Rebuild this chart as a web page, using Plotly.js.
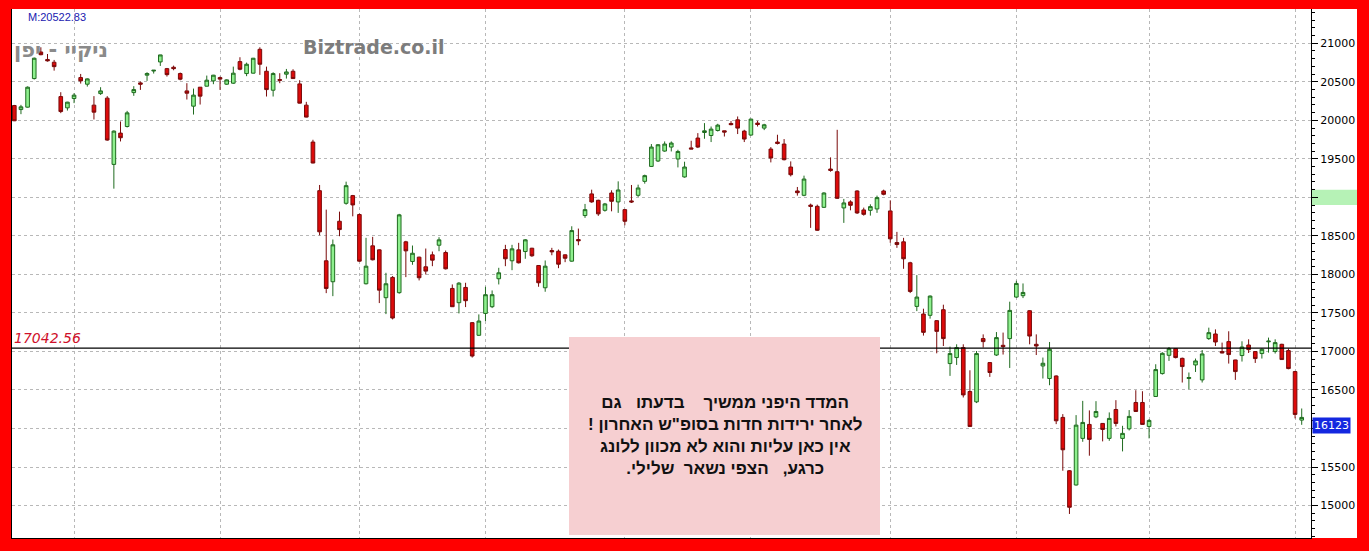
<!DOCTYPE html>
<html>
<head>
<meta charset="utf-8">
<script src="https://cdn.plot.ly/plotly-3.0.1.min.js"></script>
<style>
html,body{margin:0;padding:0;background:#ff0000;}
#chart{width:1369px;height:551px;}
</style>
</head>
<body>
<div id="chart"></div>
<script>
// ---- data (Nikkei 225 daily candles) ----
const opens = [20192,20140,20171,20542,20887,20790,20754,20308,20162,20283,
20555,20469,20197,20347,20288,19428,19834,19920,20360,20486,
20586,20640,20758,20671,20689,20607,20382,20184,20430,20443,
20512,20555,20469,20482,20762,20607,20612,20922,20637,20391,
20530,20599,20637,20473,20197,19718,19087,18177,17905,18690,
18923,19023,18777,17879,18371,18319,17698,17961,17763,18423,
18168,18224,18099,18254,18379,18284,17818,17633,17831,17374,
17210,17494,17581,17944,18323,18177,18319,18297,18340,18116,
17827,18310,18301,18254,18172,18453,18764,19045,18962,18832,
19057,18941,18841,18954,19027,19208,19402,19472,19601,19653,
19498,19265,19642,19770,19842,19803,19868,19864,19959,20007,
19860,19809,19964,19899,19627,19718,19692,19394,19083,19027,
18900,18884,18871,19368,19333,18863,18941,19083,18837,18832,
18850,19083,18824,18414,18423,18151,17585,17486,17469,17400,
17542,16843,16921,17050,16480,16346,17167,16856,16954,17080,
17167,17706,17724,17529,17093,16812,16649,16682,16144,15452,
15267,15872,16053,16151,16066,15872,16247,15872,15996,16338,
16338,16027,16416,16713,16950,17037,16911,16649,16825,16631,
17167,17227,16999,17128,16890,16947,17084,16999,16973,17125,
16999,17093,17011,16739,16109];
const highs = [20200,20201,20440,20815,20948,20861,20784,20365,20240,20352,
20602,20545,20314,20430,20314,19870,19985,20123,20443,20503,
20624,20652,20851,20680,20710,20620,20482,20412,20432,20581,
20590,20568,20532,20697,20819,20749,20810,20948,20697,20624,
20612,20667,20663,20521,20240,19748,19161,18841,18453,18815,
19204,19032,18790,18475,18488,18325,18021,17979,18786,18436,
18375,18230,18336,18297,18483,18310,17870,17900,17892,17382,
17481,17840,17792,18086,18384,18384,18410,18458,18345,18120,
18181,18345,18323,18260,18625,18595,18915,19100,18970,18928,
19092,19208,18850,19161,19165,19295,19692,19692,19726,19726,
19618,19463,19735,19834,19964,19920,19955,19866,19990,20050,
19877,20020,19994,19955,19653,19813,19757,19467,19135,19282,
18919,18906,19066,19519,19877,18980,18962,19092,18867,18910,
19023,19100,18962,18552,18475,18164,17991,17555,17727,17405,
17607,17063,17093,17093,16756,17006,17222,16860,17252,17245,
17646,17918,17883,17535,17222,16921,17123,16690,16187,15460,
16174,16359,16235,16355,16070,16209,16368,16035,16239,16497,
16484,16122,16834,16990,17058,17045,16920,16727,16908,17019,
17309,17287,17115,17262,16892,17132,17158,17002,17041,17180,
17158,17100,17037,16748,16260];
const lows = [19990,20080,20165,20530,20845,20762,20645,20093,20127,20223,
20477,20438,20011,20330,19735,19113,19726,19907,20318,20395,
20512,20607,20706,20568,20650,20520,20270,20075,20205,20440,
20469,20395,20460,20473,20650,20573,20608,20590,20309,20309,
20482,20542,20538,20220,20038,19442,18508,17757,17718,18496,
18905,18754,18165,17870,18182,17628,17485,17416,17750,17965,
18125,17922,17999,18107,18301,18064,17577,17494,17576,16921,
17201,17395,17563,17870,18107,18055,18142,18203,18228,17840,
17775,18249,18081,18159,18165,18379,18734,18930,18760,18815,
18819,18799,18638,18928,19006,19178,19394,19459,19592,19596,
19389,19256,19627,19640,19761,19718,19855,19790,19935,19822,
19718,19800,19920,19873,19454,19687,19480,19272,19023,19015,
18604,18565,18862,19333,18980,18669,18832,18785,18763,18763,
18799,19027,18410,18345,18073,17758,17524,17206,17426,16976,
17071,16683,16825,16403,16020,16330,17050,16670,16942,16960,
16786,17696,17693,17093,16954,16649,16562,16057,15452,14891,
15260,15828,15647,16135,15833,15841,16027,15703,15975,16215,
16050,15872,16410,16700,16877,16910,16597,16510,16734,16597,
17150,17071,16977,16843,16631,16869,16980,16851,16908,16985,
16973,16890,16769,16131,16048];
const closes = [19994,20175,20430,20806,20852,20772,20697,20114,20236,20327,
20512,20538,20106,20382,19744,19860,19774,20097,20399,20469,
20607,20650,20849,20593,20671,20534,20352,20327,20314,20521,
20586,20535,20525,20612,20663,20728,20806,20728,20399,20607,
20519,20628,20542,20223,20042,19446,18553,17818,18384,18582,
19152,18902,18172,18107,18190,17796,17879,17434,18773,18306,
18275,17957,18043,18185,18449,18073,17581,17887,17659,16941,
17395,17737,17737,18021,18203,18332,18151,18449,18242,17892,
18107,18293,18133,18210,18569,18436,18841,18941,18786,18915,
18949,19096,18690,18941,19122,19282,19653,19683,19692,19705,
19596,19394,19627,19653,19864,19886,19938,19847,19944,19899,
19757,20016,19946,19942,19511,19700,19489,19294,19061,19238,
18883,18573,19057,19350,18988,18928,18897,18798,18780,18880,
18997,19040,18462,18388,18203,17779,17706,17248,17719,17261,
17167,16973,17050,16436,16027,16973,17128,16727,17180,17063,
17533,17883,17766,17200,17071,16847,17028,16100,15724,14978,
16044,16079,15859,16221,15988,16131,16066,15937,16157,16221,
16053,16105,16765,16976,17037,16921,16804,16662,16877,16968,
17244,17123,16980,16960,16739,17058,17024,16908,17028,17134,
17115,16895,16778,16183,16144];

// month-start candles (vertical grid lines)
const monthStartIdx = [9,31,52,71,92,111,132,151,171,193];
const yTickVals = [15000,15500,16000,16500,17000,17500,18000,18500,19000,19500,20000,20500,21000];
const yTickText = ['15000','15500','','16500','17000','17500','18000','18500','','19500','20000','20500','21000'];
const refLevel = 17042.56;
const lastPrice = 16123;
const maxLabel = 'M:20522.83';
const titleText = 'ניקיי - יפן';
const brandText = 'Biztrade.co.il';
const noteLines = [
  'המדד היפני ממשיך\u00a0\u00a0\u00a0 בדעתו\u00a0\u00a0 גם',
  'לאחר ירידות חדות בסופ"ש האחרון !\u200F',
  'אין כאן עליות והוא לא מכוון ללונג',
  'כרגע,\u00a0\u00a0 הצפי נשאר\u00a0 שלילי.\u200F'
];

// ---- geometry ----
const W = 1369, H = 551;
const PL = 12, PR = 1311, PT = 9, PB = 538;
const pw = PR - PL, ph = PB - PT;
const px = x => (x - PL) / pw;      // pixel -> paper x
const py = y => (PB - y) / ph;      // pixel -> paper y

const xs = opens.map((_, i) => i);

const trace = {
  type: 'candlestick',
  x: xs, open: opens, high: highs, low: lows, close: closes,
  increasing: {line: {color: '#1f6b1f', width: 1}, fillcolor: '#8ef08e'},
  decreasing: {line: {color: '#7a0a0a', width: 1}, fillcolor: '#dd0a0a'},
  whiskerwidth: 0,
  hoverinfo: 'none'
};

const layout = {
  width: W, height: H,
  margin: {l: PL, r: W - PR, t: PT, b: H - PB, pad: 0},
  paper_bgcolor: '#ff0000',
  plot_bgcolor: '#ffffff',
  showlegend: false,
  boxgap: 0.22,
  dragmode: false,
  xaxis: {
    range: [-0.35, 195.4],
    rangeslider: {visible: false},
    showline: true, linecolor: '#000', linewidth: 1,
    tickmode: 'array', tickvals: monthStartIdx,
    showticklabels: false, ticks: '',
    showgrid: true, gridcolor: '#b8b8b8', gridwidth: 1, griddash: 'dot',
    zeroline: false, fixedrange: true
  },
  yaxis: {
    side: 'right',
    range: [14579, 21445],
    tickmode: 'array', tickvals: yTickVals, ticktext: yTickText,
    showline: true, mirror: true, linecolor: '#000', linewidth: 1,
    ticks: 'outside', ticklen: 6, tickcolor: '#000', tickwidth: 1,
    tickfont: {family: 'DejaVu Sans, Verdana, sans-serif', size: 11, color: '#000'},
    minor: {tickmode: 'linear', tick0: 0, dtick: 100, ticks: 'outside', ticklen: 3, tickcolor: '#000', showgrid: false},
    showgrid: true, gridcolor: '#b8b8b8', gridwidth: 1, griddash: 'dot',
    zeroline: false, fixedrange: true
  },
  shapes: [
    // white right-axis panel
    {type: 'rect', xref: 'paper', yref: 'paper', x0: 1, x1: px(1357), y0: 0, y1: 1,
     fillcolor: '#ffffff', line: {width: 0}, layer: 'below'},
    // green marker on the axis at 19000
    {type: 'rect', xref: 'paper', yref: 'y', x0: px(1312), x1: px(1357), y0: 18900, y1: 19100,
     fillcolor: '#b6f2b6', line: {width: 0}, layer: 'below'},
    // reference level line
    {type: 'line', xref: 'paper', yref: 'y', x0: 0, x1: 1, y0: refLevel, y1: refLevel,
     line: {color: '#000', width: 1.3}, layer: 'above'},
    // pink note box
    {type: 'rect', xref: 'paper', yref: 'paper', x0: px(569), x1: px(880), y0: py(535), y1: py(337),
     fillcolor: '#f6cfd1', line: {width: 0}, layer: 'above'}
  ],
  annotations: [
    {xref: 'paper', yref: 'paper', x: px(26), y: py(9), xanchor: 'left', yanchor: 'top',
     text: maxLabel, showarrow: false,
     font: {family: 'Liberation Sans, Arial, sans-serif', size: 11, color: '#2020b0'}},
    {xref: 'paper', yref: 'paper', x: px(12), y: py(50), xanchor: 'left', yanchor: 'middle',
     text: '<b>' + titleText + '</b>', showarrow: false,
     font: {family: 'DejaVu Sans, sans-serif', size: 21, color: '#8a8a8a'}},
    {xref: 'paper', yref: 'paper', x: px(374), y: py(47), xanchor: 'center', yanchor: 'middle',
     text: '<b>' + brandText + '</b>', showarrow: false,
     font: {family: 'DejaVu Sans, Verdana, sans-serif', size: 19, color: '#7c7c7c'}},
    {xref: 'paper', yref: 'paper', x: px(12), y: py(338), xanchor: 'left', yanchor: 'middle',
     text: '<i>' + refLevel.toFixed(2) + '</i>', showarrow: false,
     font: {family: 'DejaVu Sans, Verdana, sans-serif', size: 14, color: '#d0102a'}},
    {xref: 'paper', yref: 'paper', x: px(725), y: py(436), xanchor: 'center', yanchor: 'middle',
     text: '<b>' + noteLines.join('<br>') + '</b>', showarrow: false, align: 'center',
     font: {family: 'Liberation Sans, Arial, DejaVu Sans, sans-serif', size: 17, color: '#111'}},
    {xref: 'paper', yref: 'paper', x: px(1312), y: py(425), xanchor: 'left', yanchor: 'middle',
     text: String(lastPrice), showarrow: false, bgcolor: '#1428e0', borderpad: 1,
     font: {family: 'DejaVu Sans, Verdana, sans-serif', size: 11, color: '#ffffff'}}
  ]
};

Plotly.newPlot('chart', [trace], layout, {displayModeBar: false, staticPlot: true});
</script>
</body>
</html>
